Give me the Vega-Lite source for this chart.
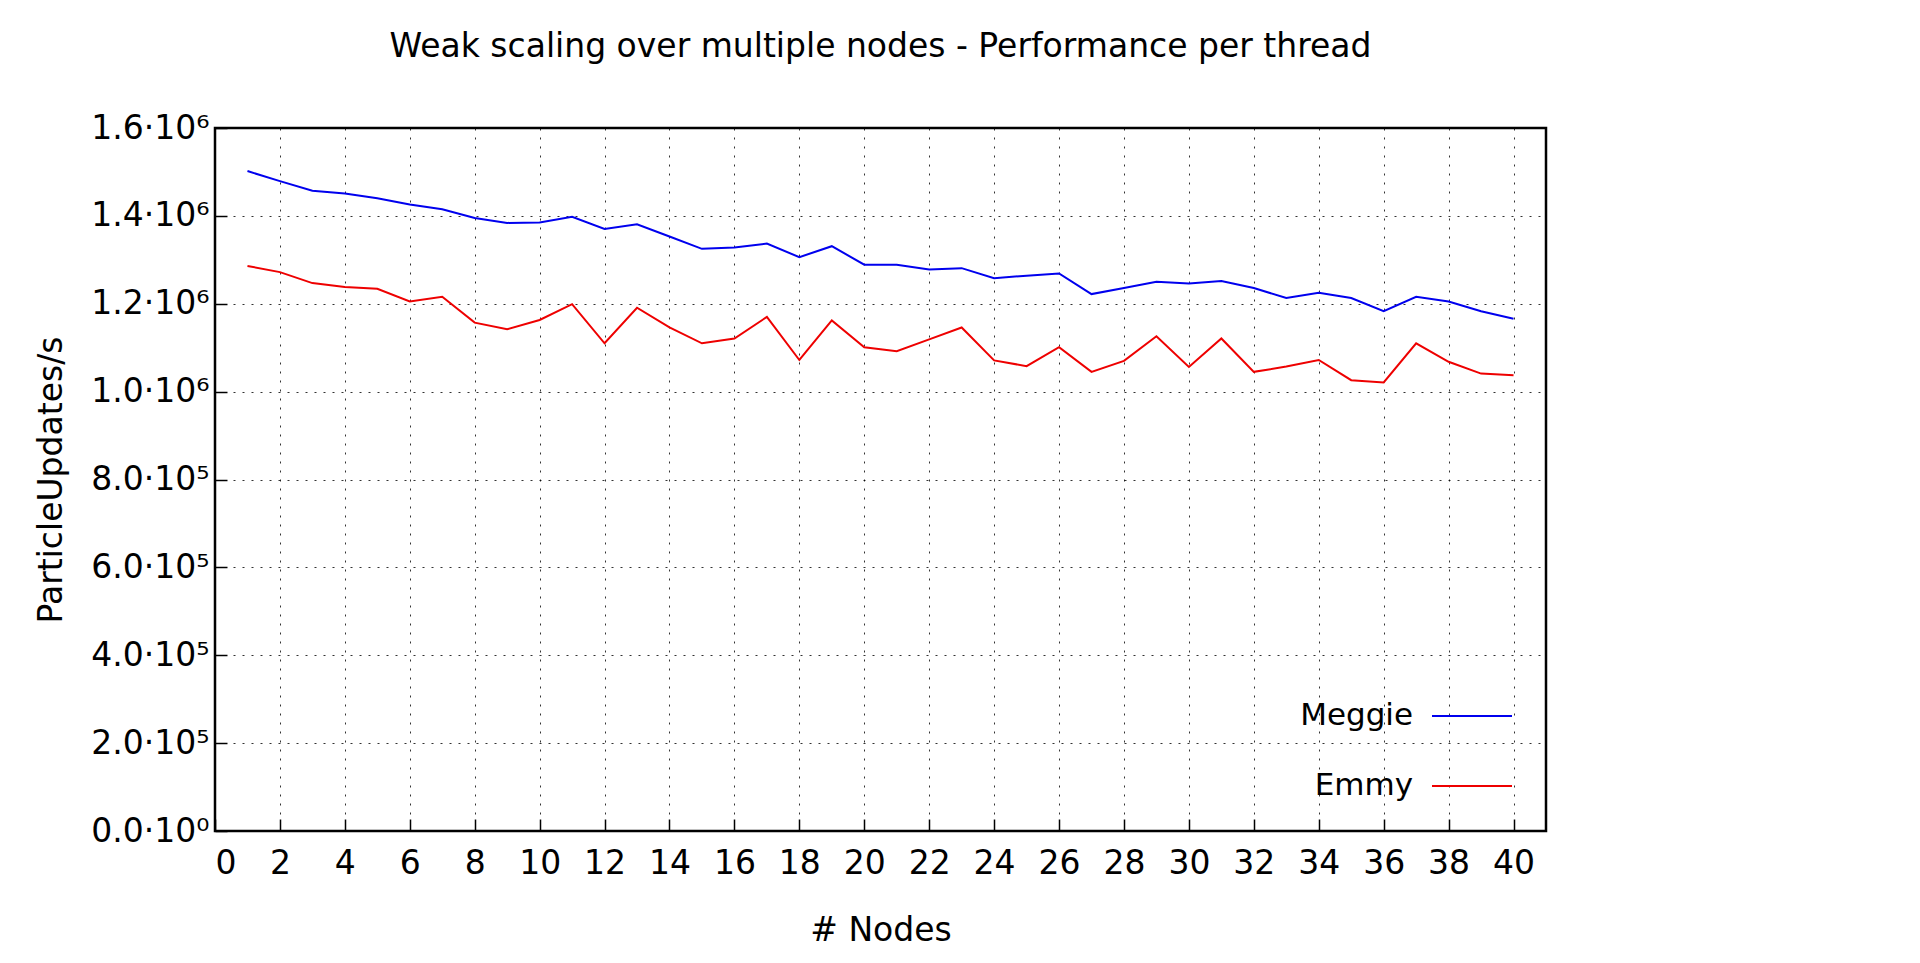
{
  "$schema": "https://vega.github.io/schema/vega-lite/v6.json",
  "width": 1331,
  "height": 703,
  "autosize": "none",
  "padding": {"left": 215, "top": 128, "right": 374, "bottom": 132},
  "background": "white",
  "title": {"text": "Weak scaling over multiple nodes - Performance per thread", "font": "DejaVu Sans", "fontSize": 33, "fontWeight": "normal", "offset": 48, "anchor": "middle"},
  "config": {
    "font": "DejaVu Sans",
    "view": {"stroke": "black", "strokeWidth": 2.5},
    "axis": {"grid": true, "gridColor": "black", "gridDash": [2, 7], "gridOpacity": 0.8, "domain": false, "tickColor": "black", "tickSize": -12, "tickWidth": 1.5, "labelFontSize": 33, "labelColor": "black", "titleFontSize": 33, "titleFontWeight": "normal", "titleColor": "black"}
  },
  "data": {"values": [
    {"n":1,"s":"Meggie","v":1502000},{"n":2,"s":"Meggie","v":1479000},{"n":3,"s":"Meggie","v":1457000},{"n":4,"s":"Meggie","v":1451000},{"n":5,"s":"Meggie","v":1440000},{"n":6,"s":"Meggie","v":1426000},{"n":7,"s":"Meggie","v":1415000},{"n":8,"s":"Meggie","v":1395000},{"n":9,"s":"Meggie","v":1384000},{"n":10,"s":"Meggie","v":1385000},{"n":11,"s":"Meggie","v":1398000},{"n":12,"s":"Meggie","v":1370000},{"n":13,"s":"Meggie","v":1381000},{"n":14,"s":"Meggie","v":1353000},{"n":15,"s":"Meggie","v":1325000},{"n":16,"s":"Meggie","v":1328000},{"n":17,"s":"Meggie","v":1337000},{"n":18,"s":"Meggie","v":1306000},{"n":19,"s":"Meggie","v":1331000},{"n":20,"s":"Meggie","v":1289000},{"n":21,"s":"Meggie","v":1289000},{"n":22,"s":"Meggie","v":1278000},{"n":23,"s":"Meggie","v":1281000},{"n":24,"s":"Meggie","v":1258000},{"n":25,"s":"Meggie","v":1264000},{"n":26,"s":"Meggie","v":1269000},{"n":27,"s":"Meggie","v":1222000},{"n":28,"s":"Meggie","v":1236000},{"n":29,"s":"Meggie","v":1250000},{"n":30,"s":"Meggie","v":1246000},{"n":31,"s":"Meggie","v":1252000},{"n":32,"s":"Meggie","v":1236000},{"n":33,"s":"Meggie","v":1213000},{"n":34,"s":"Meggie","v":1225000},{"n":35,"s":"Meggie","v":1213000},{"n":36,"s":"Meggie","v":1183000},{"n":37,"s":"Meggie","v":1216000},{"n":38,"s":"Meggie","v":1205000},{"n":39,"s":"Meggie","v":1183000},{"n":40,"s":"Meggie","v":1166000},
    {"n":1,"s":"Emmy","v":1286000},{"n":2,"s":"Emmy","v":1272000},{"n":3,"s":"Emmy","v":1247000},{"n":4,"s":"Emmy","v":1238000},{"n":5,"s":"Emmy","v":1234000},{"n":6,"s":"Emmy","v":1205000},{"n":7,"s":"Emmy","v":1216000},{"n":8,"s":"Emmy","v":1157000},{"n":9,"s":"Emmy","v":1142000},{"n":10,"s":"Emmy","v":1163000},{"n":11,"s":"Emmy","v":1199000},{"n":12,"s":"Emmy","v":1110000},{"n":13,"s":"Emmy","v":1191000},{"n":14,"s":"Emmy","v":1146000},{"n":15,"s":"Emmy","v":1110000},{"n":16,"s":"Emmy","v":1121000},{"n":17,"s":"Emmy","v":1170000},{"n":18,"s":"Emmy","v":1072000},{"n":19,"s":"Emmy","v":1162000},{"n":20,"s":"Emmy","v":1101000},{"n":21,"s":"Emmy","v":1092000},{"n":22,"s":"Emmy","v":1119000},{"n":23,"s":"Emmy","v":1146000},{"n":24,"s":"Emmy","v":1071000},{"n":25,"s":"Emmy","v":1058000},{"n":26,"s":"Emmy","v":1101000},{"n":27,"s":"Emmy","v":1045000},{"n":28,"s":"Emmy","v":1070000},{"n":29,"s":"Emmy","v":1126000},{"n":30,"s":"Emmy","v":1056000},{"n":31,"s":"Emmy","v":1121000},{"n":32,"s":"Emmy","v":1045000},{"n":33,"s":"Emmy","v":1057000},{"n":34,"s":"Emmy","v":1072000},{"n":35,"s":"Emmy","v":1026000},{"n":36,"s":"Emmy","v":1021000},{"n":37,"s":"Emmy","v":1110000},{"n":38,"s":"Emmy","v":1068000},{"n":39,"s":"Emmy","v":1041000},{"n":40,"s":"Emmy","v":1037000}
  ]},
  "mark": {"type": "line", "strokeWidth": 2},
  "encoding": {
    "x": {"field": "n", "type": "quantitative", "title": "# Nodes", "scale": {"domain": [0, 41], "nice": false}, "axis": {"values": [0,2,4,6,8,10,12,14,16,18,20,22,24,26,28,30,32,34,36,38,40], "labelPadding": 28, "titlePadding": 34}},
    "y": {"field": "v", "type": "quantitative", "title": "ParticleUpdates/s", "scale": {"domain": [0, 1600000], "nice": false}, "axis": {"values": [0,200000,400000,600000,800000,1000000,1200000,1400000,1600000], "labelPadding": 18, "titlePadding": 22, "labelExpr": "datum.value == 0 ? '0.0·10⁰' : (datum.value >= 999999 ? format(datum.value / 1000000, '.1f') + '·10⁶' : format(datum.value / 100000, '.1f') + '·10⁵')"}},
    "color": {"field": "s", "type": "nominal", "sort": ["Meggie", "Emmy"], "scale": {"domain": ["Meggie", "Emmy"], "range": ["#0000ee", "#ee0000"]},
      "legend": {"title": null, "orient": "bottom-right", "symbolType": "stroke", "symbolSize": 6400, "symbolStrokeWidth": 2, "labelFontSize": 31, "labelColor": "black", "labelAlign": "right", "labelOffset": -100, "rowPadding": 14, "offset": 30}}
  }
}
